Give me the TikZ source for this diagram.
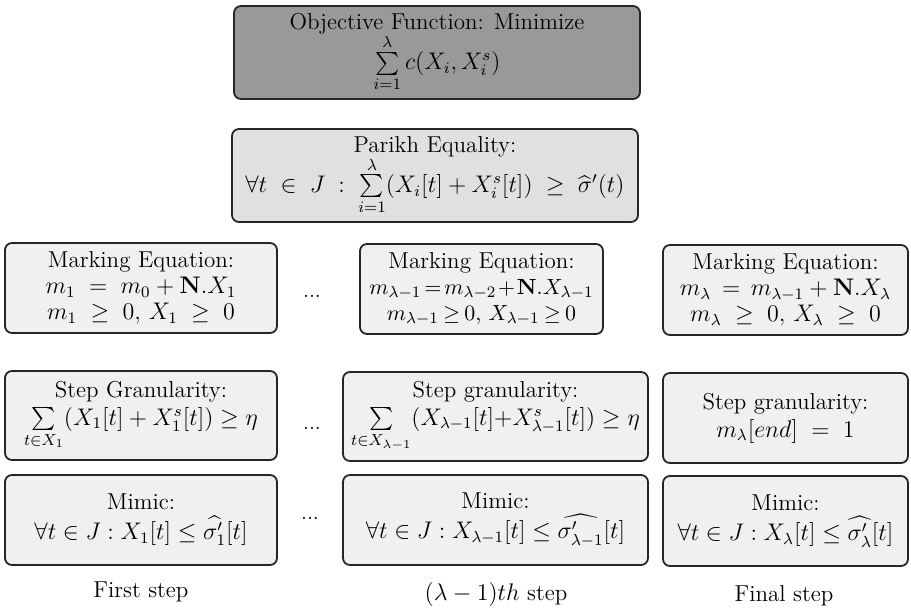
\documentclass[tikz,border=0pt]{standalone}
\usepackage{amsmath,amssymb}
\begin{document}
\begin{tikzpicture}[x=0.5pt,y=-0.5pt,
  box/.style={draw=black!85, line width=0.9pt, rounded corners=3.5pt, align=center,
    font=\fontsize{11.5}{13}\selectfont, inner sep=0pt, fill=black!6},
  lbl/.style={font=\fontsize{11.5}{13}\selectfont, inner sep=0pt},
  dots/.style={font=\fontsize{11}{13}\selectfont, inner sep=0pt}]
\useasboundingbox (0,0) rectangle (911,609);
% top
\node[box, fill=black!40, minimum width=203pt, minimum height=46.5pt] (obj) at (437,52.5)
  {Objective Function: Minimize\\[-1pt] $\sum\limits_{i=1}^{\lambda} c(X_i, X_i^s)$};
\node[box, fill=black!12, minimum width=203pt, minimum height=46.5pt] (par) at (435,175.5)
  {Parikh Equality:\\[-1pt] $\forall t\;\in\;J\;:\;\sum\limits_{i=1}^{\lambda}(X_i[t]+X_i^s[t])\;\geq\;\widehat{\sigma}'(t)$};
% marking row
\node[box, minimum width=136pt, minimum height=45pt] (m1) at (141,288)
  {Marking Equation:\\ $m_1\;=\;m_0+\mathbf{N}.X_1$\\ $m_1\;\geq\;0,\,X_1\;\geq\;0$};
\node[box, minimum width=121.5pt, minimum height=45pt] (m2) at (481.5,289)
  {Marking Equation:\\ {\fontsize{11}{12.6}\selectfont$\thickmuskip=2.5mu\medmuskip=1.5mu m_{\lambda-1}=m_{\lambda-2}+\mathbf{N}.X_{\lambda-1}$}\\ {\fontsize{11}{12.6}\selectfont$\thickmuskip=3.5mu m_{\lambda-1}\geq 0,\,X_{\lambda-1}\geq 0$}};
\node[box, minimum width=122.5pt, minimum height=45pt] (m3) at (785.5,290)
  {Marking Equation:\\ $m_{\lambda}\,=\,m_{\lambda-1}+\mathbf{N}.X_{\lambda}$\\ $m_{\lambda}\;\geq\;0,\,X_{\lambda}\;\geq\;0$};
% step row
\node[box, minimum width=136pt, minimum height=44.5pt] (s1) at (141,415.5)
  {Step Granularity:\\[1pt] $\sum\limits_{t\in X_1}(X_1[t]+X_1^s[t])\geq\eta$};
\node[box, minimum width=152.5pt, minimum height=44.5pt] (s2) at (495.5,416.5)
  {Step granularity:\\[1pt] $\sum\limits_{t\in X_{\lambda-1}}(X_{\lambda-1}[t]{+}X_{\lambda-1}^s[t])\geq\eta$};
\node[box, minimum width=122.5pt, minimum height=45pt] (s3) at (785.5,418)
  {Step granularity:\\[1pt] $m_{\lambda}[end]\;=\;1$};
% mimic row
\node[box, minimum width=136pt, minimum height=45pt] (mi1) at (141,520)
  {Mimic:\\[2pt] $\forall t\in J:X_1[t]\leq\widehat{\sigma'_1}[t]$};
\node[box, minimum width=152.5pt, minimum height=45pt] (mi2) at (495.5,520)
  {Mimic:\\[2pt] $\forall t\in J:X_{\lambda-1}[t]\leq\widehat{\sigma'_{\lambda-1}}[t]$};
\node[box, minimum width=122.5pt, minimum height=45pt] (mi3) at (785.5,521)
  {Mimic:\\[2pt] $\forall t\in J:X_{\lambda}[t]\leq\widehat{\sigma'_{\lambda}}[t]$};
% dots
\node[dots] (d1) at (312,296) {...};
\node[dots] (d2) at (312,428) {...};
\node[dots] (d3) at (310,518) {...};
% labels
\node[lbl] (l1) at (141,592) {First step};
\node[lbl] (l2) at (496,594) {$(\lambda-1)th$ step};
\node[lbl] (l3) at (784,596) {Final step};
\end{tikzpicture}
\end{document}
